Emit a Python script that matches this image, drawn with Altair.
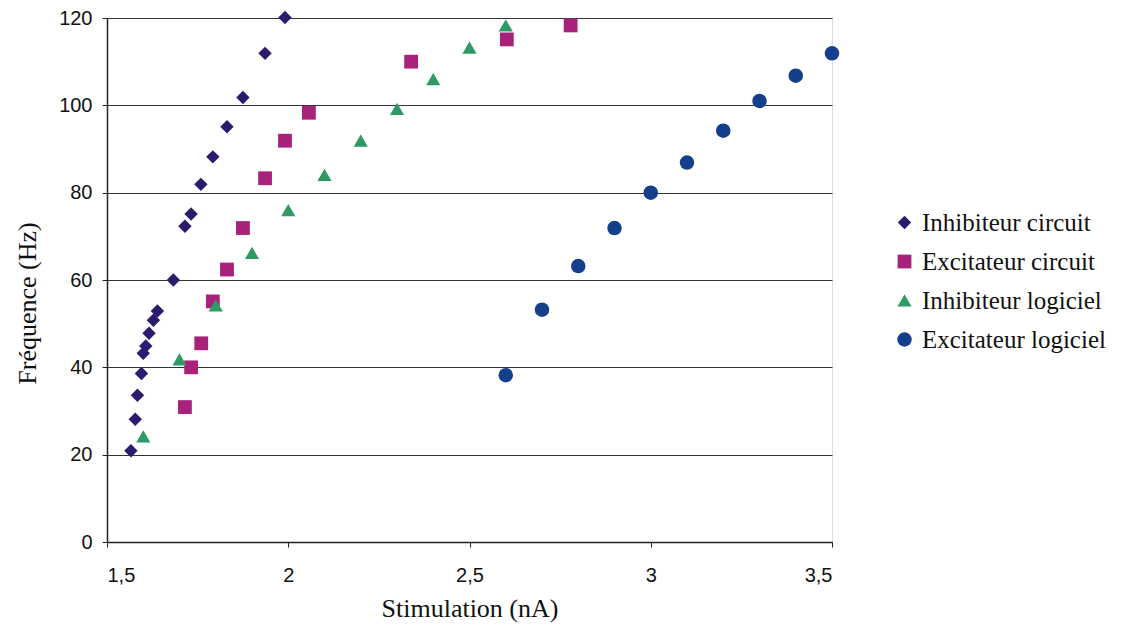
import altair as alt
import pandas as pd

series_names = ["Inhibiteur circuit", "Excitateur circuit", "Inhibiteur logiciel", "Excitateur logiciel"]
series_colors = ["#2C1A6E", "#A8217A", "#2E9A64", "#153F8A"]
series_shapes = ["diamond", "square", "triangle-up", "circle"]
series_sizes = [180, 210, 240, 215]

inh_circ_x = [1.566, 1.578, 1.584, 1.595, 1.600, 1.607, 1.616, 1.628, 1.639, 1.683,
              1.715, 1.732, 1.759, 1.792, 1.831, 1.875, 1.936, 1.991]
inh_circ_y = [20.9, 28.1, 33.6, 38.6, 43.2, 44.9, 47.8, 50.8, 52.9, 60.0,
              72.3, 75.1, 81.9, 88.2, 95.1, 101.8, 111.9, 120.1]

exc_circ_x = [1.715, 1.732, 1.760, 1.792, 1.831, 1.875, 1.936, 1.991, 2.057, 2.339, 2.603, 2.779]
exc_circ_y = [30.9, 40.0, 45.5, 55.1, 62.4, 71.9, 83.3, 91.9, 98.3, 110.0, 115.1, 118.3]

inh_log_x = [1.6, 1.7, 1.8, 1.9, 2.0, 2.1, 2.2, 2.3, 2.4, 2.5, 2.6]
inh_log_y = [24.2, 41.8, 54.2, 66.2, 76.0, 84.1, 91.9, 99.2, 106.0, 113.2, 118.3]

exc_log_x = [2.6, 2.7, 2.8, 2.9, 3.0, 3.1, 3.2, 3.3, 3.4, 3.5]
exc_log_y = [38.2, 53.2, 63.2, 71.9, 80.0, 86.9, 94.2, 101.0, 106.8, 111.9]

x_ticks = [1.5, 2, 2.5, 3, 3.5]
y_ticks = [0, 20, 40, 60, 80, 100, 120]

rows = []
for name, xs, ys in zip(series_names,
                        [inh_circ_x, exc_circ_x, inh_log_x, exc_log_x],
                        [inh_circ_y, exc_circ_y, inh_log_y, exc_log_y]):
    for xv, yv in zip(xs, ys):
        rows.append({"serie": name, "x": xv, "y": yv})
df = pd.DataFrame(rows)

serif = "Liberation Serif"
sans = "Liberation Sans"

legend_cfg = dict(title=None, orient="none", legendX=785, legendY=192,
                  labelFont=serif, labelFontSize=25, labelColor="#111", labelLimit=0,
                  symbolSize=160, labelOffset=5, rowPadding=13,
                  padding=0, symbolStrokeWidth=0)

chart = alt.Chart(df).mark_point(filled=True, opacity=1, strokeWidth=0).encode(
    x=alt.X("x:Q",
            scale=alt.Scale(domain=[1.5, 3.5], nice=False, zero=False),
            axis=alt.Axis(values=x_ticks, grid=False, title="Stimulation (nA)",
                          labelExpr="replace(format(datum.value, '~g'), '.', ',')",
                          labelFont=sans, labelFontSize=20, labelColor="#111",
                          labelPadding=18, tickSize=5, tickColor="#222",
                          domainColor="#222", domainWidth=1.5,
                          titleFont=serif, titleFontSize=26, titleFontWeight="normal",
                          titleColor="#111", titlePadding=10)),
    y=alt.Y("y:Q",
            scale=alt.Scale(domain=[0, 120], nice=False),
            axis=alt.Axis(values=y_ticks, grid=True, gridColor="#333", gridWidth=1,
                          title="Fréquence (Hz)",
                          labelFont=sans, labelFontSize=20, labelColor="#111",
                          labelPadding=10, tickSize=5, tickColor="#222",
                          domainColor="#222", domainWidth=1.5,
                          titleFont=serif, titleFontSize=26, titleFontWeight="normal",
                          titleColor="#111", titleX=-80, titleY=285,
                          titleAlign="center", titleBaseline="middle", titleAngle=-90)),
    color=alt.Color("serie:N",
                    scale=alt.Scale(domain=series_names, range=series_colors),
                    legend=alt.Legend(**legend_cfg)),
    shape=alt.Shape("serie:N",
                    scale=alt.Scale(domain=series_names, range=series_shapes),
                    legend=alt.Legend(**legend_cfg)),
    size=alt.Size("serie:N",
                  scale=alt.Scale(domain=series_names, range=series_sizes),
                  legend=None),
    order=alt.Order("serie_idx:Q"),
).transform_calculate(
    serie_idx="indexof(['Inhibiteur circuit','Excitateur circuit','Inhibiteur logiciel','Excitateur logiciel'], datum.serie)"
).properties(
    width=725, height=524,
    autosize=alt.AutoSizeParams(type="none"),
    padding={"left": 99, "top": 10, "right": 282, "bottom": 84},
).configure_view(
    stroke="#222", strokeWidth=1.5
).configure(background="white")

chart.save("out.html", embed_options={"renderer": "svg", "actions": False})
